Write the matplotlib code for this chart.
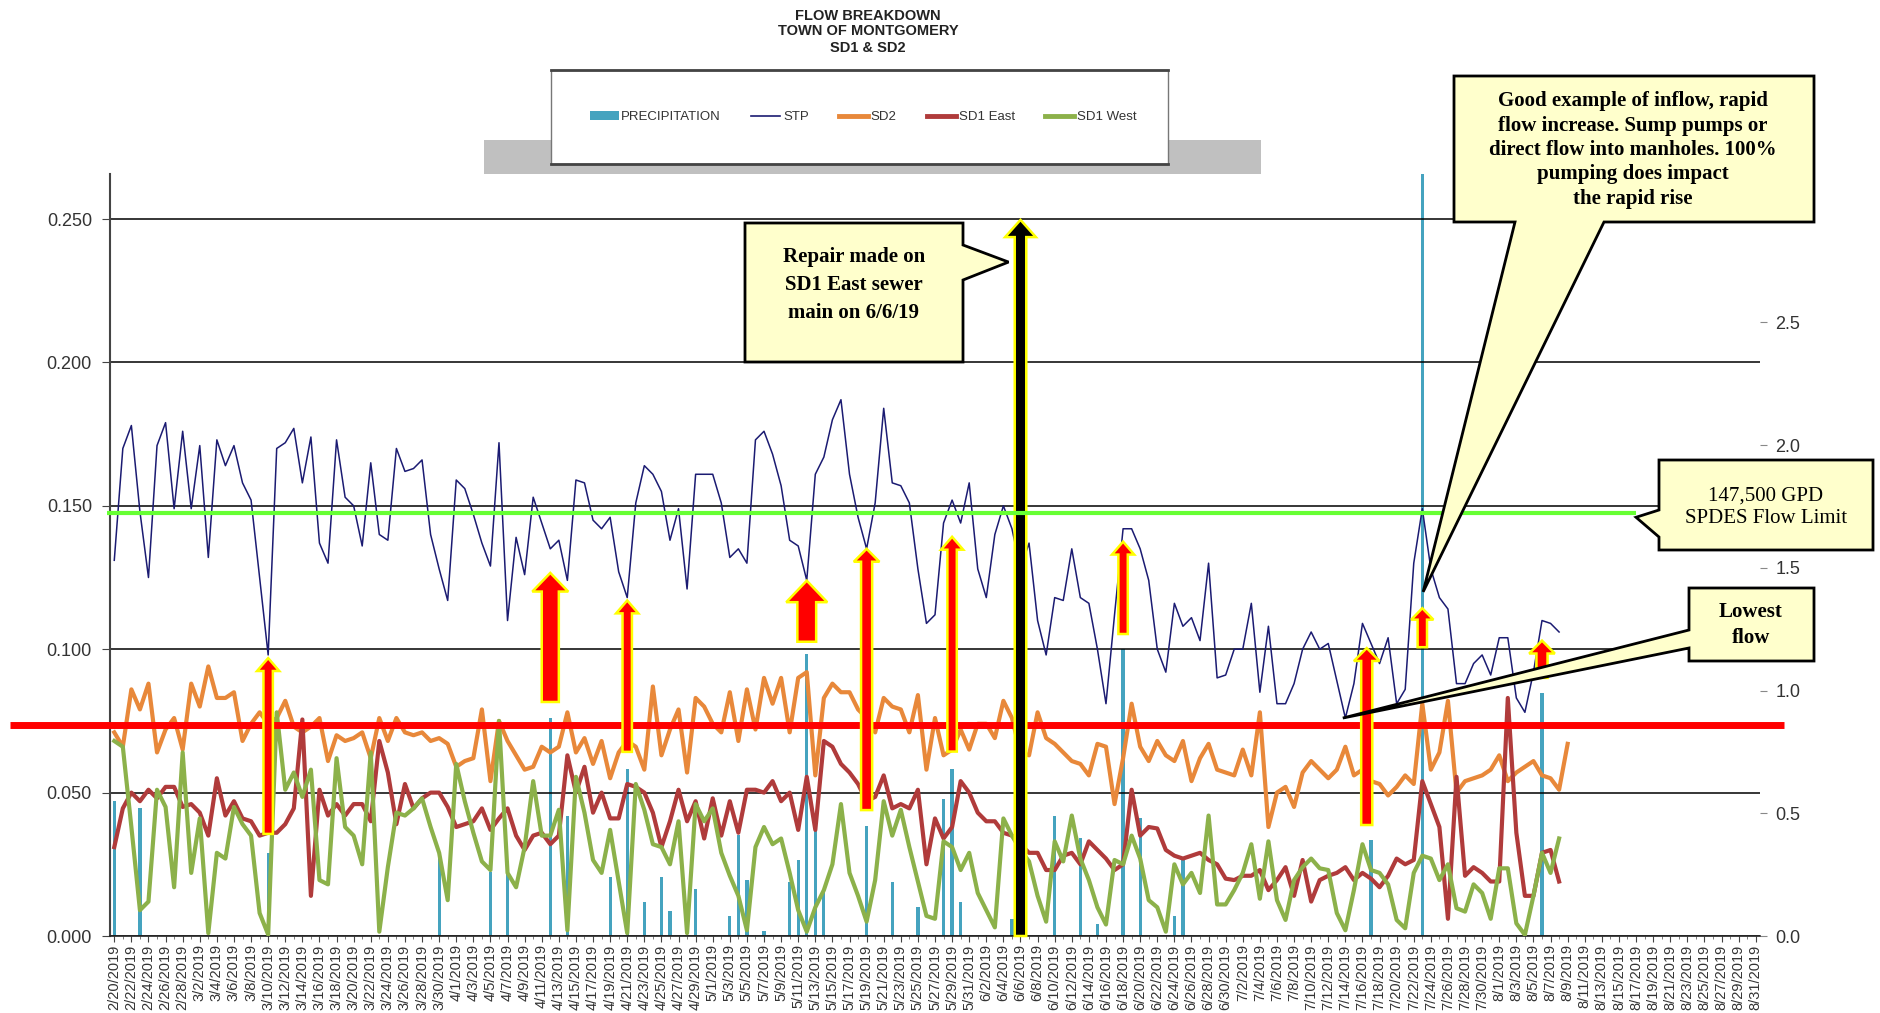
import datetime as dt

import matplotlib
matplotlib.use("Agg")
import matplotlib.pyplot as plt
from matplotlib.lines import Line2D
from matplotlib.patches import FancyArrow, Patch, Polygon, Rectangle
from matplotlib.transforms import blended_transform_factory

plt.rcParams["font.family"] = ["Liberation Sans", "DejaVu Sans"]

# ---- data ----------------------------------------------------------------
start = dt.date(2019, 2, 20)
n_slots = 193  # 2/20/2019 .. 8/31/2019

stp = [.131, .170, .178, .148, .125, .171, .179, .149, .176, .149,
       .171, .132, .173, .164, .171, .158, .152, .125, .098, .170,
       .172, .177, .158, .174, .137, .130, .173, .153, .150, .136,
       .165, .140, .138, .170, .162, .163, .166, .140, .128, .117,
       .159, .156, .147, .137, .129, .172, .110, .139, .126, .153,
       .144, .135, .138, .124, .159, .158, .145, .142, .146, .127,
       .118, .151, .164, .161, .155, .138, .149, .121, .161, .161,
       .161, .151, .132, .135, .130, .173, .176, .168, .157, .138,
       .136, .124, .161, .167, .180, .187, .161, .146, .135, .151,
       .184, .158, .157, .151, .128, .109, .112, .144, .152, .144,
       .158, .128, .118, .140, .150, .142, .128, .137, .110, .098,
       .118, .117, .135, .118, .116, .100, .081, .112, .142, .142,
       .135, .124, .100, .092, .116, .108, .111, .103, .130, .090,
       .091, .100, .100, .116, .085, .108, .081, .081, .088, .100,
       .106, .100, .102, .089, .076, .088, .109, .102, .095, .104,
       .081, .086, .130, .149, .128, .118, .114, .088, .088, .095,
       .098, .091, .104, .104, .083, .078, .092, .110, .109, .106]

sd2 = [.071, .066, .086, .079, .088, .064, .072, .076, .065, .088,
       .080, .094, .083, .083, .085, .068, .074, .078, .074, .076,
       .082, .073, .071, .073, .076, .061, .070, .068, .069, .071,
       .062, .076, .068, .076, .071, .070, .071, .068, .069, .067,
       .059, .061, .062, .079, .054, .075, .068, .063, .058, .059,
       .066, .064, .066, .078, .064, .069, .060, .068, .055, .064,
       .068, .066, .058, .087, .063, .072, .079, .057, .083, .080,
       .074, .071, .085, .068, .086, .072, .090, .081, .090, .071,
       .090, .092, .056, .083, .088, .085, .085, .079, .076, .071,
       .083, .080, .079, .071, .084, .058, .076, .063, .065, .072,
       .065, .074, .074, .069, .082, .076, .064, .063, .078, .069,
       .067, .064, .061, .060, .056, .067, .066, .046, .062, .081,
       .066, .061, .068, .063, .061, .068, .054, .062, .067, .058,
       .057, .056, .065, .056, .078, .038, .050, .052, .045, .057,
       .061, .058, .055, .058, .066, .056, .058, .054, .053, .049,
       .052, .056, .053, .081, .058, .064, .082, .050, .054, .055,
       .056, .058, .063, .054, .057, .059, .061, .056, .055, .051,
       .067]

sd1_east = [.031, .0445, .050, .047, .051, .048, .052, .052, .045, .046,
            .043, .035, .055, .042, .047, .041, .040, .035, .036, .036,
            .039, .0445, .0755, .014, .051, .042, .046, .042, .046, .046,
            .040, .068, .057, .039, .053, .0445, .048, .050, .050, .045,
            .038, .039, .040, .0445, .037, .041, .0445, .035, .030, .035,
            .036, .032, .035, .063, .050, .059, .043, .050, .041, .041,
            .053, .052, .050, .043, .031, .040, .051, .040, .047, .034,
            .048, .035, .047, .036, .051, .051, .050, .054, .047, .050,
            .037, .0555, .037, .068, .066, .060, .057, .053, .047, .0485,
            .056, .0445, .046, .0445, .051, .025, .041, .034, .038, .054,
            .050, .043, .040, .040, .036, .035, .032, .029, .029, .023,
            .023, .028, .029, .025, .033, .030, .027, .023, .025, .051,
            .035, .038, .0375, .030, .028, .027, .028, .029, .0265, .025,
            .020, .0195, .021, .021, .023, .016, .0195, .024, .014, .0265,
            .012, .0195, .021, .022, .024, .0195, .022, .020, .017, .021,
            .027, .025, .0265, .054, .046, .038, .006, .0555, .021, .024,
            .022, .019, .019, .083, .036, .014, .014, .029, .030, .019]

sd1_west = [.068, .066, .038, .009, .012, .051, .045, .017, .064, .022,
            .041, .001, .029, .027, .045, .039, .035, .008, .0005, .078,
            .051, .057, .0485, .058, .0195, .018, .062, .038, .035, .025,
            .064, .0015, .024, .043, .042, .0445, .048, .038, .029, .0125,
            .060, .047, .036, .026, .023, .075, .022, .017, .031, .054,
            .035, .035, .044, .002, .0555, .043, .0265, .022, .037, .019,
            .001, .053, .044, .032, .031, .025, .040, .001, .046, .040,
            .0445, .029, .021, .014, .002, .031, .038, .032, .034, .022,
            .009, .0015, .010, .016, .025, .046, .022, .014, .005, .0195,
            .047, .035, .044, .031, .019, .007, .006, .033, .031, .023,
            .029, .015, .009, .003, .041, .035, .030, .026, .014, .005,
            .033, .026, .042, .027, .0195, .010, .004, .0265, .025, .035,
            .027, .0125, .010, .0015, .025, .018, .022, .015, .042, .011,
            .011, .016, .022, .032, .013, .033, .0125, .0056, .0195, .024,
            .027, .0236, .023, .008, .002, .016, .032, .023, .022, .018,
            .0056, .0027, .022, .028, .027, .0195, .025, .0097, .0085, .018,
            .015, .006, .0236, .0236, .0044, .0004, .014, .029, .022, .034]

# precipitation (inches, right axis): day offset from 2/20 and amount
rain_day = [0, 3, 18, 38, 44, 46, 51, 53, 58, 60, 62, 64, 65, 68, 72, 73,
            74, 76, 79, 80, 81, 82, 83, 88, 91, 94, 97, 98, 99, 105, 110,
            113, 115, 118, 120, 124, 125, 147, 153, 167]
rain_in = [0.55, 0.52, 0.34, 0.34, 0.26, 0.26, 0.89, 0.49, 0.24, 0.68, 0.14,
           0.24, 0.10, 0.19, 0.08, 0.41, 0.23, 0.02, 0.22, 0.31, 1.15, 0.43,
           0.19, 0.45, 0.22, 0.12, 0.56, 0.68, 0.14, 0.07, 0.49, 0.40, 0.05,
           1.17, 0.48, 0.08, 0.31, 0.39, 3.6, 0.99]

limit_flow = 0.1475   # 147,500 GPD
low_flow_line = 0.0736

# red "rise" arrows: day, base, tip
arrow_day = [18, 51, 60, 81, 88, 98, 118, 146.5, 153, 167]
arrow_base = [0.0356, 0.0816, 0.0642, 0.1026, 0.0439, 0.0643, 0.1053, 0.0387, 0.1007, 0.0900]
arrow_tip = [0.0969, 0.1266, 0.1170, 0.1239, 0.1350, 0.1392, 0.1375, 0.1004, 0.1143, 0.1030]
arrow_shaft = [1.1, 2.0, 1.1, 2.2, 1.3, 1.1, 1.1, 1.3, 1.1, 1.3]
arrow_head = [2.6, 4.2, 2.6, 4.8, 3.0, 2.6, 2.6, 3.0, 2.6, 3.0]
arrow_hlen = [0.0045, 0.0065, 0.0045, 0.0075, 0.0045, 0.0045, 0.0045, 0.0045, 0.0040, 0.0045]
repair_day, repair_top = 106, 0.2497

# ---- figure ---------------------------------------------------------------
W, H = 1880, 1013
fig = plt.figure(figsize=(W / 100, H / 100), dpi=100)


def fx(x):
    return x / W


def fy(y):
    return 1 - y / H


rect = [fx(110), fy(936), (1760 - 110) / W, (936 - 174) / H]
ax = fig.add_axes(rect)
ax2 = ax.twinx()
ax.set_zorder(2)
ax2.set_zorder(1)
ax.patch.set_visible(False)
ax2.patch.set_facecolor("#c0c0c0")

x_stp = list(range(len(stp)))
ax2.bar(rain_day, rain_in, width=0.38, color="#45a3bf", zorder=2)
ax2.set_ylim(0, 3.104)
ax2.set_yticks([0, 0.5, 1.0, 1.5, 2.0, 2.5])
ax2.set_yticklabels(["%.1f" % v for v in [0, 0.5, 1.0, 1.5, 2.0, 2.5]])
ax2.tick_params(axis="y", length=5, color="#888888", labelsize=13, labelcolor="#333333", pad=6)
for s in ax2.spines.values():
    s.set_visible(False)

ax.plot(x_stp, stp, color="#1b1b72", lw=1.1, zorder=3)
ax.plot(range(len(sd2)), sd2, color="#e8883a", lw=3, solid_joinstyle="round", zorder=3)
ax.plot(range(len(sd1_east)), sd1_east, color="#b03b3b", lw=3, solid_joinstyle="round", zorder=3)
ax.plot(range(len(sd1_west)), sd1_west, color="#8cb14a", lw=3, solid_joinstyle="round", zorder=3)

ax.set_xlim(-0.5, n_slots - 0.5)
ax.set_ylim(0, 0.2657)
ax.set_yticks([0, 0.05, 0.10, 0.15, 0.20, 0.25])
ax.set_yticklabels(["%.3f" % v for v in [0, 0.05, 0.10, 0.15, 0.20, 0.25]])
ax.yaxis.grid(True, color="black", lw=1.1)
ax.set_axisbelow(True)
ax.tick_params(axis="y", length=6, color="#444444", labelsize=13, labelcolor="#333333", pad=7)

dates = [start + dt.timedelta(days=i) for i in range(n_slots)]
ax.set_xticks(range(0, n_slots, 2))
ax.set_xticklabels(["%d/%d/%d" % (d.month, d.day, d.year) for d in dates[::2]],
                   rotation=90, fontsize=10.5, color="#333333")
ax.set_xticks(range(n_slots), minor=True)
ax.tick_params(axis="x", which="major", length=4, color="#444444", pad=2)
ax.tick_params(axis="x", which="minor", length=2, color="#666666")
for side in ["top", "right"]:
    ax.spines[side].set_visible(False)
ax.spines["left"].set_color("#444444")
ax.spines["left"].set_linewidth(1.5)
ax.spines["bottom"].set_color("#222222")
ax.spines["bottom"].set_linewidth(1.2)

# reference lines that run past the plot edges
blend = blended_transform_factory(ax.transAxes, ax.transData)
ax.plot([-0.0606, 1.0145], [low_flow_line] * 2, transform=blend, color="red",
        lw=5, clip_on=False, zorder=4, solid_capstyle="butt")
spdes_tip = (178.0, 0.146)
ax.plot([-0.002, (spdes_tip[0] + 0.5) / n_slots], [limit_flow] * 2, transform=blend,
        color="#66ff33", lw=3, clip_on=False, zorder=7, solid_capstyle="butt")

# arrows
for d, b, t, sw, hw, hl in zip(arrow_day, arrow_base, arrow_tip, arrow_shaft, arrow_head, arrow_hlen):
    ax.add_patch(FancyArrow(d, b, 0, t - b, width=sw, head_width=hw, head_length=hl,
                            length_includes_head=True, fc="red", ec="yellow", lw=1.8, zorder=5))
ax.add_patch(FancyArrow(repair_day, 0, 0, repair_top, width=1.35, head_width=3.6,
                        head_length=0.006, length_includes_head=True, fc="black",
                        ec="yellow", lw=1.8, zorder=6, clip_on=False))

# ---- title, legend -------------------------------------------------------
title_font = ["Liberation Sans Narrow", "Liberation Sans", "DejaVu Sans"]
for txt, yy in zip(["FLOW BREAKDOWN", "TOWN OF MONTGOMERY", "SD1 & SD2"], [16, 31, 48]):
    fig.text(fx(868), fy(yy), txt, ha="center", va="center", fontsize=10.5,
             weight="bold", family=title_font, color="#222222")

fig.add_artist(Rectangle((fx(484), fy(174)), (1261 - 484) / W, (174 - 140) / H,
                         transform=fig.transFigure, fc="#c0c0c0", ec="none", zorder=9))
fig.add_artist(Rectangle((fx(551), fy(164)), (1168 - 551) / W, (164 - 70) / H,
                         transform=fig.transFigure, fc="white", ec="#777777", lw=1, zorder=10))
for yy in [70, 164]:
    fig.add_artist(Line2D([fx(551), fx(1168)], [fy(yy), fy(yy)], transform=fig.transFigure,
                          color="#444444", lw=2, zorder=10))

handles = [Patch(fc="#45a3bf"),
           Line2D([], [], color="#1b1b72", lw=1.2),
           Line2D([], [], color="#e8883a", lw=3.5),
           Line2D([], [], color="#b03b3b", lw=3.5),
           Line2D([], [], color="#8cb14a", lw=3.5)]
labels = ["PRECIPITATION", "STP", "SD2", "SD1 East", "SD1 West"]
leg = fig.legend(handles, labels, loc="center", bbox_to_anchor=(fx(863), fy(117)), ncol=5,
                 frameon=False, fontsize=9.5, handlelength=2.2, handleheight=0.6,
                 handletextpad=0.2, columnspacing=2.3, labelcolor="#333333")
leg.set_zorder(12)

# ---- callouts ------------------------------------------------------------
serif = ["Liberation Serif", "DejaVu Serif"]


def callout(box, wedge, tip_data, text, center, weight="bold", spacing=1.15):
    x0, y0, x1, y1 = box
    tx, ty = ax.transData.transform(tip_data)
    tip = (tx, H - ty)
    side, a, b = wedge
    if side == "right":
        pts = [(x0, y0), (x1, y0), (x1, a), tip, (x1, b), (x1, y1), (x0, y1)]
    elif side == "left":
        pts = [(x0, y0), (x1, y0), (x1, y1), (x0, y1), (x0, b), tip, (x0, a)]
    else:
        pts = [(x0, y0), (x1, y0), (x1, y1), (b, y1), tip, (a, y1), (x0, y1)]
    fig.add_artist(Polygon([(fx(px), fy(py)) for px, py in pts], closed=True,
                           transform=fig.transFigure, fc="#ffffcc", ec="black",
                           lw=2, zorder=13, joinstyle="miter"))
    fig.text(fx(center[0]), fy(center[1]), text, ha="center", va="center",
             fontsize=15, weight=weight, family=serif, linespacing=spacing, zorder=14)


callout((745, 223, 963, 362), ("right", 245, 280), (104.6, 0.235),
        "Repair made on\nSD1 East sewer\nmain on 6/6/19", (854, 285), spacing=1.55)
callout((1454, 76, 1814, 222), ("bottom", 1515, 1604), (153.1, 0.120),
        "Good example of inflow, rapid\nflow increase. Sump pumps or\n"
        "direct flow into manholes. 100%\npumping does impact\nthe rapid rise", (1633, 150),
        spacing=1.3)
callout((1659, 460, 1873, 550), ("left", 510, 537), spdes_tip,
        "147,500 GPD\nSPDES Flow Limit", (1766, 507), weight="normal", spacing=1.22)
callout((1689, 588, 1814, 661), ("left", 630, 648), (143.7, 0.076),
        "Lowest\nflow", (1751, 625), spacing=1.4)

fig.savefig("out.png", dpi=100)
